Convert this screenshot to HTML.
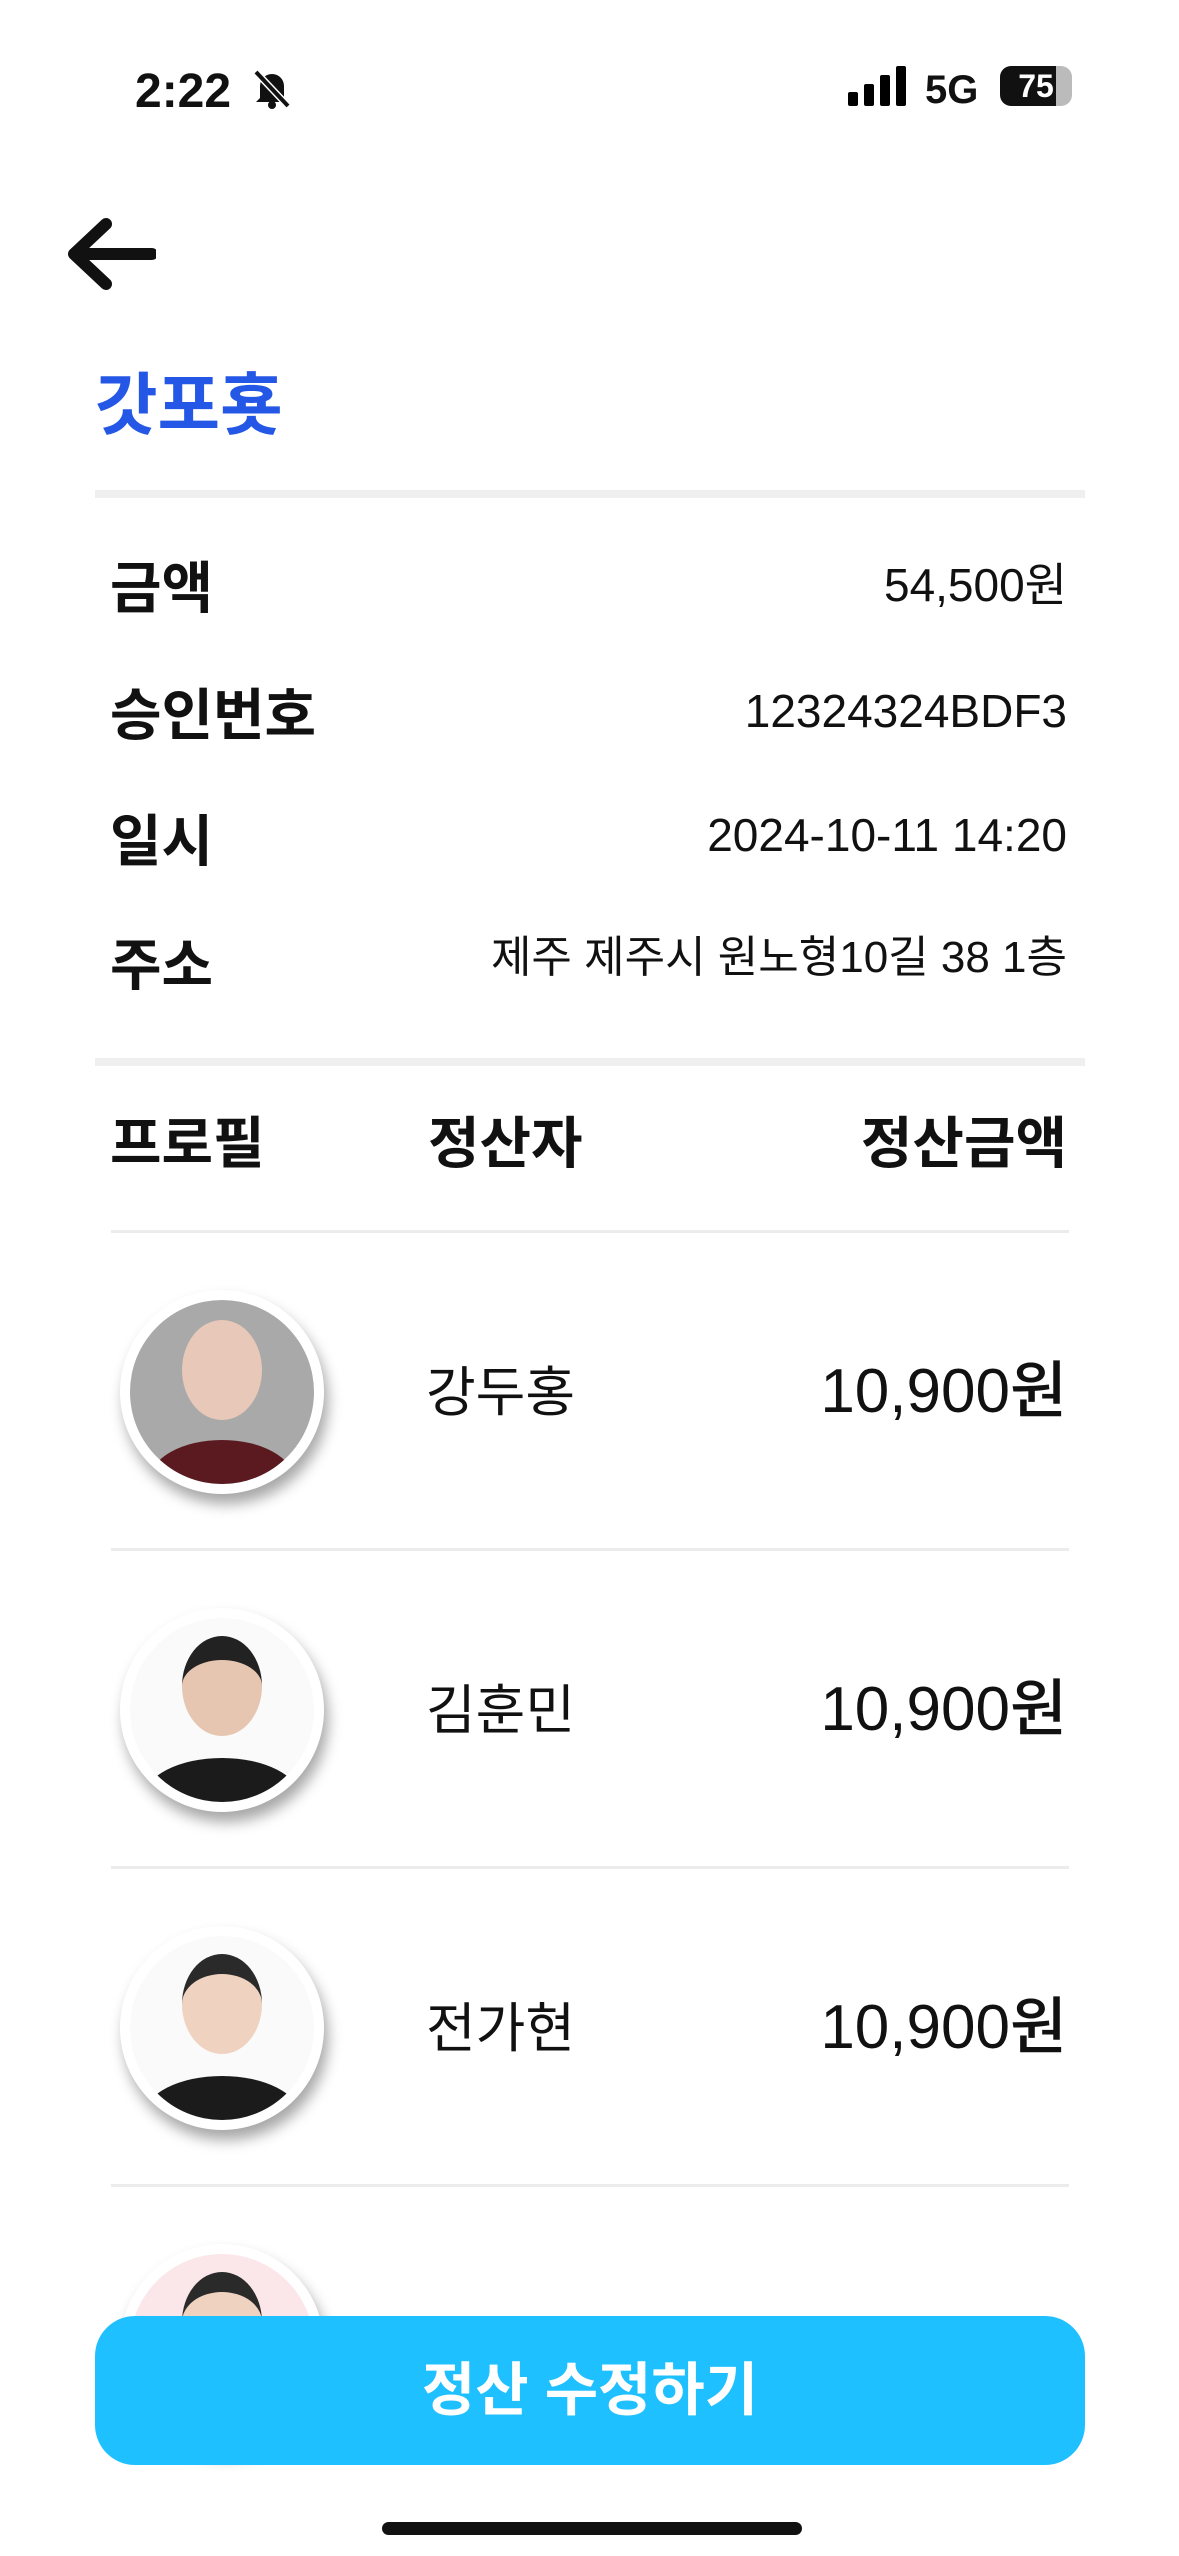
<!DOCTYPE html>
<html><head><meta charset="utf-8"><style>
*{margin:0;padding:0;box-sizing:border-box}
body{width:1179px;height:2556px;background:#fff;position:relative;overflow:hidden;font-family:"Liberation Sans","Noto Sans CJK KR",sans-serif;color:#111}
.a{position:absolute}
.lbl{position:absolute;left:110px;font-size:56px;font-weight:700;line-height:1}
.val{position:absolute;right:112px;font-size:46px;line-height:1;text-align:right;white-space:nowrap}
.hr{position:absolute;left:111px;width:958px;height:3px;background:#ececec}
.av{position:absolute;left:120px;width:204px;height:204px;border-radius:50%;background:#fff;box-shadow:4px 10px 14px rgba(0,0,0,.35);overflow:hidden}
.av .in{position:absolute;left:10px;top:10px;width:184px;height:184px;border-radius:50%;overflow:hidden;background:#f4f4f4}
.name{position:absolute;left:426px;font-size:54px;line-height:1}
.amt{position:absolute;right:112px;font-size:62px;line-height:1;font-weight:500}
</style></head><body>
<div class="a" style="left:135px;top:64px;font-size:48px;font-weight:700">2:22</div>
<svg class="a" style="left:252px;top:68px" width="40" height="42" viewBox="0 0 40 42"><path d="M8 30V18a12 12 0 0124 0v12l4 4H4z" fill="#111"/><circle cx="20" cy="37" r="4" fill="#111"/><path d="M4 4l32 34" stroke="#fff" stroke-width="7"/><path d="M4 4l32 34" stroke="#111" stroke-width="4"/></svg>
<svg class="a" style="left:848px;top:66px" width="60" height="40"><rect x="0" y="26" width="10" height="14" rx="2"/><rect x="16" y="18" width="10" height="22" rx="2"/><rect x="32" y="9" width="10" height="31" rx="2"/><rect x="48" y="0" width="10" height="40" rx="2"/></svg>
<div class="a" style="left:925px;top:68px;font-size:40px;font-weight:700">5G</div>
<div class="a" style="left:1000px;top:66px;width:72px;height:40px;border-radius:11px;background:linear-gradient(90deg,#111 78%,#bbb 78%);color:#fff;font-size:32px;font-weight:700;text-align:center;line-height:40px">75</div>
<svg class="a" style="left:66px;top:218px" width="90" height="72" viewBox="0 0 90 72"><path d="M86 36H10M40 6L8 36l32 30" stroke="#111" stroke-width="12" fill="none" stroke-linecap="round" stroke-linejoin="round"/></svg>
<div class="a" style="left:95px;top:350px;font-size:68px;font-weight:700;color:#2457e6">갓포횻</div>
<div class="a" style="left:95px;top:490px;width:990px;height:8px;background:#efefef"></div>
<div class="lbl" style="top:561px">금액</div>
<div class="val" style="top:562px">54,500원</div>
<div class="lbl" style="top:688px">승인번호</div>
<div class="val" style="top:688px">12324324BDF3</div>
<div class="lbl" style="top:814px">일시</div>
<div class="val" style="top:812px">2024-10-11 14:20</div>
<div class="lbl" style="top:938px">주소</div>
<div class="val" style="top:936px;font-size:44px">제주 제주시 원노형10길 38 1층</div>
<div class="a" style="left:95px;top:1058px;width:990px;height:8px;background:#efefef"></div>
<div class="lbl" style="top:1116px">프로필</div>
<div class="lbl" style="top:1116px;left:428px">정산자</div>
<div class="lbl" style="top:1116px;left:auto;right:112px">정산금액</div>
<div class="hr" style="top:1230px"></div>

<div class="av" style="top:1290px"><div class="in" style="background:#a9a9a9"><div class="a" style="left:52px;top:20px;width:80px;height:100px;border-radius:50%;background:#e8c8b8"></div><div class="a" style="left:20px;top:140px;width:144px;height:80px;border-radius:50% 50% 0 0;background:#5a1a20"></div></div></div>
<div class="name" style="top:1366px">강두홍</div>
<div class="amt" style="top:1361px">10,900원</div>
<div class="hr" style="top:1548px"></div>

<div class="av" style="top:1608px"><div class="in" style="background:#fafafa"><div class="a" style="left:52px;top:18px;width:80px;height:100px;border-radius:50%;background:#e6c6b0;border-top:24px solid #222"></div><div class="a" style="left:14px;top:140px;width:156px;height:80px;border-radius:50% 50% 0 0;background:#1b1b1b"></div></div></div>
<div class="name" style="top:1684px">김훈민</div>
<div class="amt" style="top:1679px">10,900원</div>
<div class="hr" style="top:1866px"></div>

<div class="av" style="top:1926px"><div class="in" style="background:#fafafa"><div class="a" style="left:52px;top:18px;width:80px;height:100px;border-radius:50%;background:#efd2c0;border-top:20px solid #2a2a2a"></div><div class="a" style="left:14px;top:140px;width:156px;height:80px;border-radius:50% 50% 0 0;background:#1b1b1b"></div></div></div>
<div class="name" style="top:2002px">전가현</div>
<div class="amt" style="top:1997px">10,900원</div>
<div class="hr" style="top:2184px"></div>

<div class="av" style="top:2244px"><div class="in" style="background:#fbe6ea"><div class="a" style="left:52px;top:18px;width:80px;height:100px;border-radius:50%;background:#efd2c0;border-top:20px solid #2a2a2a"></div></div></div>

<div class="a" style="left:95px;top:2316px;width:990px;height:149px;border-radius:40px;background:#1fc0ff;color:#fff;font-size:58px;font-weight:700;text-align:center;line-height:149px">정산 수정하기</div>
<div class="a" style="left:382px;top:2522px;width:420px;height:13px;border-radius:7px;background:#111"></div>
</body></html>
